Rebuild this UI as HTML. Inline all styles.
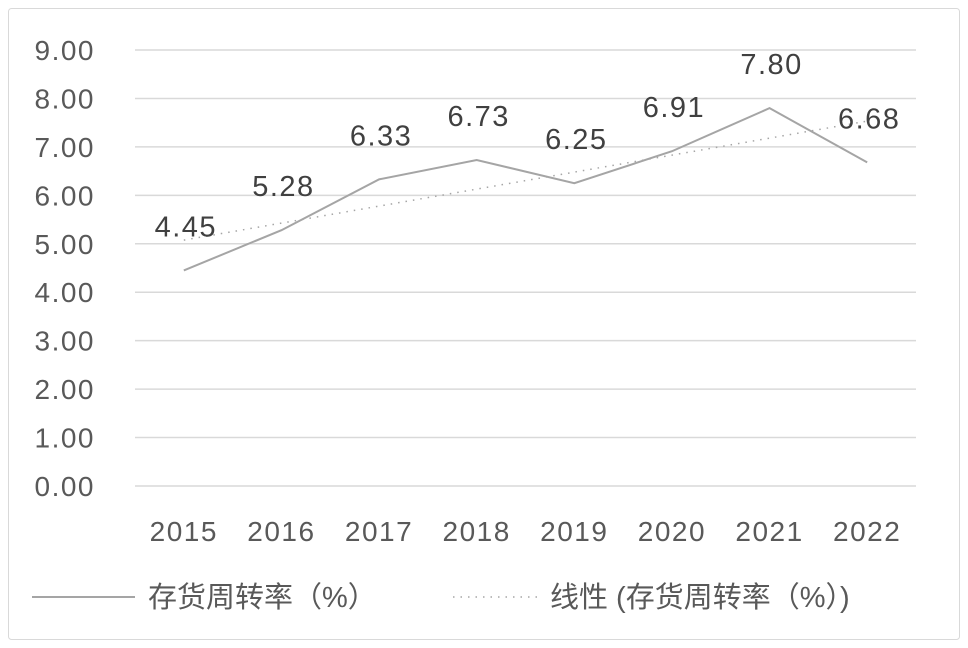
<!DOCTYPE html>
<html><head><meta charset="utf-8"><style>
body{margin:0;background:#fff}
svg{display:block;font-family:"Liberation Sans","Noto Sans CJK SC",sans-serif}
</style></head><body>
<svg id="chart" width="968" height="648" viewBox="0 0 968 648">
<rect x="8.5" y="8.5" width="951" height="631" rx="3" fill="#fff" stroke="#d9d9d9"/>
<g id="grid"></g><g id="axis"></g><g id="marks"></g><g id="labels"></g>
<g>
<line x1="32" y1="597" x2="135" y2="597" stroke="#a5a5a5" stroke-width="2"/>
<text x="148" y="607" font-size="29" fill="#595959">存货周转率（%）</text>
<line x1="453" y1="597" x2="540" y2="597" stroke="#a5a5a5" stroke-width="1.5" stroke-dasharray="1.5,6"/>
<text x="550" y="607" font-size="29" fill="#595959">线性 (存货周转率（%）)</text>
</g>
</svg>
<script>
const categories=["2015","2016","2017","2018","2019","2020","2021","2022"];
const values=[4.45,5.28,6.33,6.73,6.25,6.91,7.80,6.68];
const yTicks=[0,1,2,3,4,5,6,7,8,9];
const NS="http://www.w3.org/2000/svg";
const left=135,right=916,y0=486,y9=50;
const band=(right-left)/categories.length;
const xs=i=>left+band*(i+0.5);
const ys=v=>y0-(y0-y9)*v/9;
function mk(tag,attrs,parent,txt){const e=document.createElementNS(NS,tag);for(const k in attrs)e.setAttribute(k,attrs[k]);if(txt!==undefined)e.textContent=txt;document.getElementById(parent).appendChild(e);return e;}
yTicks.forEach(t=>{
 const l=mk("line",{x1:left,x2:right,y1:ys(t),y2:ys(t),stroke:"#d9d9d9","stroke-width":1.5},"grid");
 
 
 const tx=mk("text",{x:95,y:ys(t)+10,"font-size":28,"letter-spacing":1.5,fill:"#595959","text-anchor":"end"},"axis",t.toFixed(2));
 
 
});
categories.forEach((c,i)=>{
 const tx=mk("text",{x:xs(i),y:541,"font-size":28,"letter-spacing":1.5,fill:"#595959","text-anchor":"middle"},"axis",c);
 
 
});
const n=values.length,mx=(n-1)/2,my=values.reduce((a,b)=>a+b,0)/n;
let sxy=0,sxx=0;values.forEach((v,i)=>{sxy+=(i-mx)*(v-my);sxx+=(i-mx)*(i-mx);});
const slope=sxy/sxx,icpt=my-slope*mx;
const tr=mk("line",{x1:xs(0),y1:ys(icpt),x2:xs(n-1),y2:ys(icpt+slope*(n-1)),stroke:"#a5a5a5","stroke-width":1.5,"stroke-dasharray":"1.5,6"},"marks");


const pl=mk("polyline",{points:values.map((v,i)=>xs(i)+","+ys(v)).join(" "),fill:"none",stroke:"#a5a5a5","stroke-width":2},"marks");


values.forEach((v,i)=>{
 const tx=mk("text",{x:xs(i)+2,y:ys(v)-34,"font-size":29,"letter-spacing":1.5,fill:"#404040","text-anchor":"middle"},"labels",v.toFixed(2));
 
 
});
</script>
</body></html>
